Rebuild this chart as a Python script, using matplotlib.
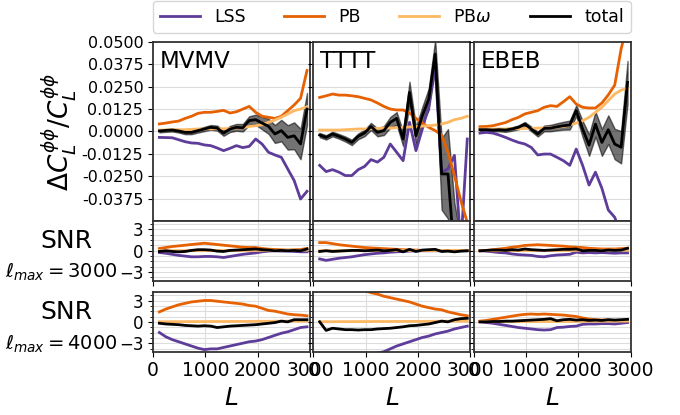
import numpy as np
import matplotlib.pyplot as plt
from matplotlib.ticker import MultipleLocator

# bin centres
L = [122, 245, 367, 490, 612, 735, 857, 980, 1102, 1225, 1347, 1470,
     1592, 1715, 1837, 1960, 2082, 2205, 2327, 2450, 2572, 2695, 2817, 2940]

names = ['MVMV', 'TTTT', 'EBEB']

# ---- Delta C_L / C_L ----
lss_mv = [-0.0034, -0.0035, -0.0036, -0.0047, -0.0058, -0.0065, -0.0067, -0.0076, -0.0080, -0.0093, -0.0108, -0.0095,
          -0.0080, -0.0091, -0.0084, -0.0043, -0.0071, -0.0117, -0.0132, -0.0145, -0.0210, -0.0275, -0.0378, -0.0335]
pb_mv = [0.0041, 0.0046, 0.0052, 0.0057, 0.0072, 0.0084, 0.0100, 0.0106, 0.0106, 0.0111, 0.0117, 0.0102,
         0.0109, 0.0124, 0.0139, 0.0106, 0.0084, 0.0078, 0.0072, 0.0084, 0.0115, 0.0147, 0.0184, 0.0339]
pbw_mv = [0.0007, 0.0007, 0.0009, 0.0009, 0.0009, 0.0011, 0.0013, 0.0013, 0.0014, 0.0014, 0.0014, 0.0016,
          0.0018, 0.0020, 0.0027, 0.0031, 0.0037, 0.0050, 0.0063, 0.0078, 0.0097, 0.0115, 0.0124, 0.0137]
tot_mv = [0.0002, 0.0005, 0.0007, 0.0002, -0.0006, -0.0006, 0.0004, 0.0013, 0.0022, 0.0018, -0.0010, 0.0013,
          0.0022, 0.0020, 0.0060, 0.0065, 0.0046, 0.0028, -0.0015, 0.0004, -0.0034, -0.0025, -0.0071, 0.0124]
err_mv = [0.0008, 0.0008, 0.0008, 0.0009, 0.0010, 0.0010, 0.0011, 0.0012, 0.0013, 0.0014, 0.0015, 0.0017,
          0.0019, 0.0021, 0.0024, 0.0028, 0.0035, 0.0042, 0.0050, 0.0060, 0.0068, 0.0075, 0.0085, 0.0090]

lss_tt = [-0.0190, -0.0225, -0.0214, -0.0228, -0.0247, -0.0247, -0.0214, -0.0196, -0.0158, -0.0172, -0.0145, -0.0071,
          -0.0117, -0.0164, 0.0050, -0.0108, 0.0013, 0.0142, 0.0366, -0.0228, -0.0209, -0.0134, -0.0640, -0.0043]
pb_tt = [0.0189, 0.0198, 0.0208, 0.0202, 0.0202, 0.0198, 0.0193, 0.0184, 0.0175, 0.0158, 0.0139, 0.0124,
         0.0119, 0.0119, 0.0102, 0.0072, 0.0046, 0.0022, 0.0004, -0.0021, -0.0117, -0.0247, -0.0387, -0.0508]
pbw_tt = [0.0007, 0.0007, 0.0007, 0.0007, 0.0009, 0.0011, 0.0013, 0.0013, 0.0014, 0.0016, 0.0018, 0.0018,
          0.0020, 0.0022, 0.0024, 0.0026, 0.0029, 0.0031, 0.0035, 0.0041, 0.0050, 0.0065, 0.0072, 0.0084]
tot_tt = [-0.0021, -0.0034, -0.0015, -0.0028, -0.0043, -0.0062, -0.0028, -0.0009, 0.0027, -0.0006, 0.0004, 0.0050,
          0.0072, -0.0043, 0.0217, -0.0025, 0.0087, 0.0180, 0.0431, -0.0238, -0.0238, -0.0700, -0.0900, -0.0800]
err_tt = [0.0012, 0.0012, 0.0013, 0.0013, 0.0014, 0.0015, 0.0016, 0.0018, 0.0020, 0.0022, 0.0025, 0.0030,
          0.0035, 0.0040, 0.0060, 0.0050, 0.0050, 0.0060, 0.0080, 0.0200, 0.0250, 0.0300, 0.0300, 0.0300]

lss_eb = [-0.0010, -0.0006, -0.0010, -0.0021, -0.0034, -0.0049, -0.0062, -0.0071, -0.0090, -0.0132, -0.0127, -0.0127,
          -0.0145, -0.0164, -0.0190, -0.0099, -0.0190, -0.0300, -0.0228, -0.0318, -0.0439, -0.0480, -0.0580, -0.0700]
pb_eb = [0.0026, 0.0027, 0.0031, 0.0040, 0.0049, 0.0065, 0.0078, 0.0097, 0.0106, 0.0115, 0.0134, 0.0143,
         0.0139, 0.0165, 0.0193, 0.0152, 0.0134, 0.0130, 0.0130, 0.0158, 0.0203, 0.0258, 0.0459, 0.0608]
pbw_eb = [0.0013, 0.0013, 0.0013, 0.0013, 0.0013, 0.0014, 0.0014, 0.0016, 0.0016, 0.0018, 0.0018, 0.0020,
          0.0024, 0.0027, 0.0035, 0.0046, 0.0059, 0.0078, 0.0106, 0.0134, 0.0171, 0.0208, 0.0230, 0.0239]
tot_eb = [0.0009, 0.0009, 0.0007, 0.0009, 0.0007, 0.0013, 0.0022, 0.0040, 0.0013, -0.0015, 0.0016, 0.0018,
          0.0025, 0.0031, 0.0035, 0.0115, 0.0013, -0.0077, 0.0040, -0.0062, 0.0009, -0.0071, -0.0089, 0.0273]
err_eb = [0.0008, 0.0008, 0.0008, 0.0009, 0.0010, 0.0010, 0.0011, 0.0012, 0.0013, 0.0014, 0.0016, 0.0018,
          0.0020, 0.0022, 0.0025, 0.0030, 0.0045, 0.0060, 0.0070, 0.0075, 0.0080, 0.0085, 0.0090, 0.0120]

# ---- SNR, lmax = 3000 ----
s3_lss_mv = [-0.25, -0.35, -0.5, -0.65, -0.75, -0.85, -0.85, -0.8, -0.8, -0.85, -0.95, -0.8,
             -0.65, -0.5, -0.4, -0.3, -0.15, -0.05, 0.0, -0.05, -0.05, -0.1, -0.15, -0.15]
s3_pb_mv = [0.32, 0.46, 0.6, 0.69, 0.78, 0.88, 0.97, 1.06, 0.97, 0.88, 0.78, 0.69,
            0.6, 0.5, 0.46, 0.46, 0.32, 0.23, 0.18, 0.14, 0.1, 0.14, 0.18, 0.32]
s3_pbw_mv = [0.01, 0.01, 0.01, 0.01, 0.02, 0.02, 0.02, 0.02, 0.02, 0.03, 0.03, 0.03,
             0.03, 0.04, 0.04, 0.05, 0.05, 0.06, 0.06, 0.07, 0.07, 0.08, 0.08, 0.08]
s3_tot_mv = [-0.1, 0.0, -0.1, -0.15, -0.1, 0.05, 0.15, 0.15, 0.1, -0.05, -0.1, 0.05,
             0.1, 0.15, 0.2, 0.25, 0.15, 0.1, 0.0, 0.05, 0.0, 0.05, 0.0, 0.25]

s3_lss_tt = [-1.15, -1.35, -1.2, -1.05, -0.95, -0.85, -0.7, -0.55, -0.45, -0.35, -0.3, -0.2,
             -0.15, -0.1, -0.05, 0.0, 0.0, 0.0, 0.0, 0.0, 0.0, 0.0, 0.0, 0.0]
s3_pb_tt = [1.15, 1.15, 1.0, 0.85, 0.75, 0.65, 0.55, 0.45, 0.4, 0.35, 0.3, 0.25,
            0.2, 0.15, 0.1, 0.1, 0.05, 0.05, 0.05, 0.03, 0.02, 0.02, 0.02, 0.02]
s3_pbw_tt = [0.01, 0.01, 0.01, 0.01, 0.01, 0.02, 0.02, 0.02, 0.02, 0.02, 0.02, 0.03,
             0.03, 0.03, 0.03, 0.03, 0.04, 0.04, 0.04, 0.04, 0.04, 0.05, 0.05, 0.05]
s3_tot_tt = [-0.1, 0.0, -0.1, -0.05, 0.0, 0.05, 0.05, 0.0, 0.05, 0.1, 0.0, 0.05,
             0.15, -0.15, 0.2, -0.1, 0.1, 0.15, 0.2, -0.1, -0.05, -0.15, -0.05, 0.0]

s3_lss_eb = [0.0, -0.05, -0.15, -0.25, -0.3, -0.45, -0.55, -0.6, -0.65, -0.8, -0.85, -0.7,
             -0.6, -0.55, -0.5, -0.2, -0.3, -0.25, -0.3, -0.25, -0.3, -0.35, -0.3, -0.3]
s3_pb_eb = [0.0, 0.05, 0.15, 0.25, 0.35, 0.5, 0.6, 0.75, 0.8, 0.85, 0.8, 0.75,
            0.7, 0.65, 0.55, 0.5, 0.45, 0.35, 0.3, 0.25, 0.25, 0.25, 0.3, 0.35]
s3_pbw_eb = [0.01, 0.01, 0.01, 0.02, 0.02, 0.02, 0.02, 0.03, 0.03, 0.03, 0.03, 0.04,
             0.04, 0.04, 0.05, 0.05, 0.06, 0.06, 0.07, 0.08, 0.09, 0.1, 0.1, 0.1]
s3_tot_eb = [0.0, 0.05, 0.1, 0.1, 0.05, 0.15, 0.1, 0.25, 0.15, 0.1, 0.05, 0.1,
             0.15, 0.2, 0.2, 0.25, 0.0, 0.05, 0.05, 0.0, 0.1, 0.05, 0.1, 0.35]

# ---- SNR, lmax = 4000 ----
s4_lss_mv = [-1.5, -2.1, -2.5, -2.8, -3.1, -3.4, -3.7, -3.9, -3.8, -3.8, -3.6, -3.4,
             -3.2, -3.0, -2.8, -2.7, -2.5, -2.2, -1.9, -1.6, -1.4, -1.1, -0.8, -0.7]
s4_pb_mv = [1.4, 1.8, 2.1, 2.4, 2.6, 2.8, 2.9, 3.0, 3.0, 2.9, 2.8, 2.7,
            2.6, 2.5, 2.3, 2.2, 1.9, 1.6, 1.5, 1.3, 1.1, 1.0, 0.95, 0.85]
s4_pbw_mv = [0.02, 0.02, 0.03, 0.03, 0.03, 0.04, 0.04, 0.04, 0.05, 0.05, 0.05, 0.06,
             0.06, 0.06, 0.07, 0.07, 0.08, 0.08, 0.09, 0.09, 0.1, 0.1, 0.1, 0.1]
s4_tot_mv = [-0.2, -0.3, -0.35, -0.4, -0.5, -0.55, -0.6, -0.55, -0.6, -0.8, -0.7, -0.6,
             -0.55, -0.5, -0.45, -0.4, -0.3, -0.2, -0.1, 0.1, 0.0, 0.3, 0.3, 0.3]

s4_lss_tt = [-8.0, -7.6, -7.1, -6.6, -6.2, -5.8, -5.4, -5.0, -4.7, -4.4, -4.2, -3.8,
             -3.4, -3.1, -2.8, -2.5, -2.2, -2.0, -1.7, -1.5, -1.3, -1.0, -0.8, -0.6]
s4_pb_tt = [7.5, 7.0, 6.6, 6.1, 5.6, 5.2, 4.8, 4.4, 4.1, 3.9, 3.6, 3.4,
            3.2, 3.0, 2.8, 2.5, 2.2, 2.0, 1.8, 1.7, 1.4, 1.2, 1.0, 0.85]
s4_pbw_tt = [0.02, 0.02, 0.02, 0.03, 0.03, 0.03, 0.04, 0.04, 0.04, 0.05, 0.05, 0.05,
             0.06, 0.06, 0.06, 0.07, 0.07, 0.08, 0.08, 0.09, 0.09, 0.1, 0.1, 0.1]
s4_tot_tt = [0.0, -1.2, -0.9, -1.0, -1.1, -1.1, -1.15, -1.1, -1.1, -1.0, -0.95, -0.9,
             -0.8, -0.7, -0.55, -0.5, -0.4, -0.3, -0.1, 0.1, 0.0, 0.3, 0.45, 0.5]

s4_lss_eb = [0.0, -0.1, -0.2, -0.35, -0.5, -0.65, -0.8, -0.9, -1.0, -1.1, -1.15, -1.1,
             -0.8, -0.75, -0.65, -0.6, -0.35, -0.3, -0.3, -0.25, -0.25, -0.3, -0.2, -0.1]
s4_pb_eb = [0.1, 0.2, 0.35, 0.5, 0.65, 0.8, 0.95, 1.05, 1.1, 1.05, 1.1, 1.05,
            1.0, 0.95, 0.85, 0.75, 0.55, 0.4, 0.3, 0.25, 0.25, 0.2, 0.2, 0.25]
s4_pbw_eb = [0.01, 0.02, 0.02, 0.02, 0.03, 0.03, 0.03, 0.04, 0.04, 0.04, 0.05, 0.05,
             0.05, 0.06, 0.06, 0.07, 0.07, 0.08, 0.08, 0.09, 0.09, 0.1, 0.1, 0.1]
s4_tot_eb = [0.0, 0.0, 0.05, 0.05, 0.1, 0.1, 0.15, 0.2, 0.25, 0.3, 0.35, 0.45,
             0.15, 0.3, 0.35, 0.25, 0.3, 0.2, 0.25, 0.2, 0.3, 0.25, 0.3, 0.35]

top_data = [(lss_mv, pb_mv, pbw_mv, tot_mv, err_mv),
            (lss_tt, pb_tt, pbw_tt, tot_tt, err_tt),
            (lss_eb, pb_eb, pbw_eb, tot_eb, err_eb)]
snr3_data = [(s3_lss_mv, s3_pb_mv, s3_pbw_mv, s3_tot_mv),
             (s3_lss_tt, s3_pb_tt, s3_pbw_tt, s3_tot_tt),
             (s3_lss_eb, s3_pb_eb, s3_pbw_eb, s3_tot_eb)]
snr4_data = [(s4_lss_mv, s4_pb_mv, s4_pbw_mv, s4_tot_mv),
             (s4_lss_tt, s4_pb_tt, s4_pbw_tt, s4_tot_tt),
             (s4_lss_eb, s4_pb_eb, s4_pbw_eb, s4_tot_eb)]

top_ticks = [-0.0375, -0.025, -0.0125, 0.0, 0.0125, 0.025, 0.0375, 0.05]

c_lss, c_pb, c_pbw = '#5e3c99', '#e66101', '#fdb863'
grid_c = '#dddddd'

fig = plt.figure(figsize=(6.8, 4.15), dpi=100)
gs = fig.add_gridspec(4, 3, height_ratios=[3, 1, 0.19, 1], hspace=0, wspace=0.02,
                      left=0.225, right=0.9275, top=0.8995, bottom=0.1525)


def style(ax):
    for s in ax.spines.values():
        s.set_linewidth(1.3)
        s.set_color('#333333')
    ax.set_xlim(0, 3000)
    ax.set_axisbelow(True)


def snr_panel(ax, d, j, lmax, bottom):
    lss, pb, pbw, tot = d
    ax.plot(L, lss, color=c_lss, lw=2)
    ax.plot(L, pb, color=c_pb, lw=2)
    ax.plot(L, pbw, color=c_pbw, lw=2)
    ax.plot(L, tot, color='k', lw=2)
    style(ax)
    ax.set_ylim(-4.2, 4.2)
    ax.set_yticks([-3, 0, 3])
    ax.yaxis.set_minor_locator(MultipleLocator(0.75))
    ax.grid(axis='y', which='both', color=grid_c, lw=0.8)
    ax.grid(axis='x', which='major', color=grid_c, lw=0.8)
    ax.tick_params(axis='y', labelsize=12, labelleft=(j == 0))
    if bottom:
        ax.set_xticks([0, 1000, 2000, 3000])
        ax.tick_params(axis='x', labelsize=13.5)
        ax.set_xlabel('$L$', fontsize=18)
    else:
        ax.set_xticks([0, 2000, 3000])
        ax.tick_params(axis='x', labelbottom=False)
    if j == 0:
        ax.text(-0.55, 0.66, 'SNR', transform=ax.transAxes, fontsize=18,
                ha='center', va='center')
        ax.text(-0.225, 0.14, r'$\ell_{max}=%d$' % lmax, transform=ax.transAxes,
                fontsize=14, ha='right', va='center')


for j in range(3):
    lss, pb, pbw, tot, err = top_data[j]
    tot = np.array(tot)
    err = np.array(err)
    ax = fig.add_subplot(gs[0, j])
    ax.plot(L, lss, color=c_lss, lw=2, label='LSS')
    ax.plot(L, pb, color=c_pb, lw=2, label='PB')
    ax.plot(L, pbw, color=c_pbw, lw=2, label=r'PB$\omega$')
    ax.fill_between(L, tot - err, tot + err, color='k', alpha=0.55, lw=1)
    ax.plot(L, tot, color='k', lw=2, label='total')
    style(ax)
    ax.set_ylim(-0.05, 0.05)
    ax.set_yticks(top_ticks)
    ax.set_xticks([2000])
    ax.grid(color=grid_c, lw=0.8)
    ax.tick_params(axis='x', length=0, labelbottom=False)
    ax.tick_params(axis='y', labelsize=11.5, labelleft=(j == 0))
    if j == 0:
        ax.set_yticklabels(['%.4f' % t for t in top_ticks])
        ax.set_ylabel(r'$\Delta C_L^{\phi\phi}/C_L^{\phi\phi}$', fontsize=19, labelpad=2)
        handles, labels = ax.get_legend_handles_labels()
    ax.text(0.045, 0.955, names[j], transform=ax.transAxes, fontsize=16.5, va='top')

    snr_panel(fig.add_subplot(gs[1, j]), snr3_data[j], j, 3000, False)
    snr_panel(fig.add_subplot(gs[3, j]), snr4_data[j], j, 4000, True)

fig.legend(handles, labels, loc='lower left', bbox_to_anchor=(0.225, 0.921, 0.7025, 0.07),
           mode='expand', ncol=4, fontsize=12.5, handlelength=2.3, borderaxespad=0,
           fancybox=True, edgecolor='#cccccc')

fig.savefig('out.png', dpi=100)
